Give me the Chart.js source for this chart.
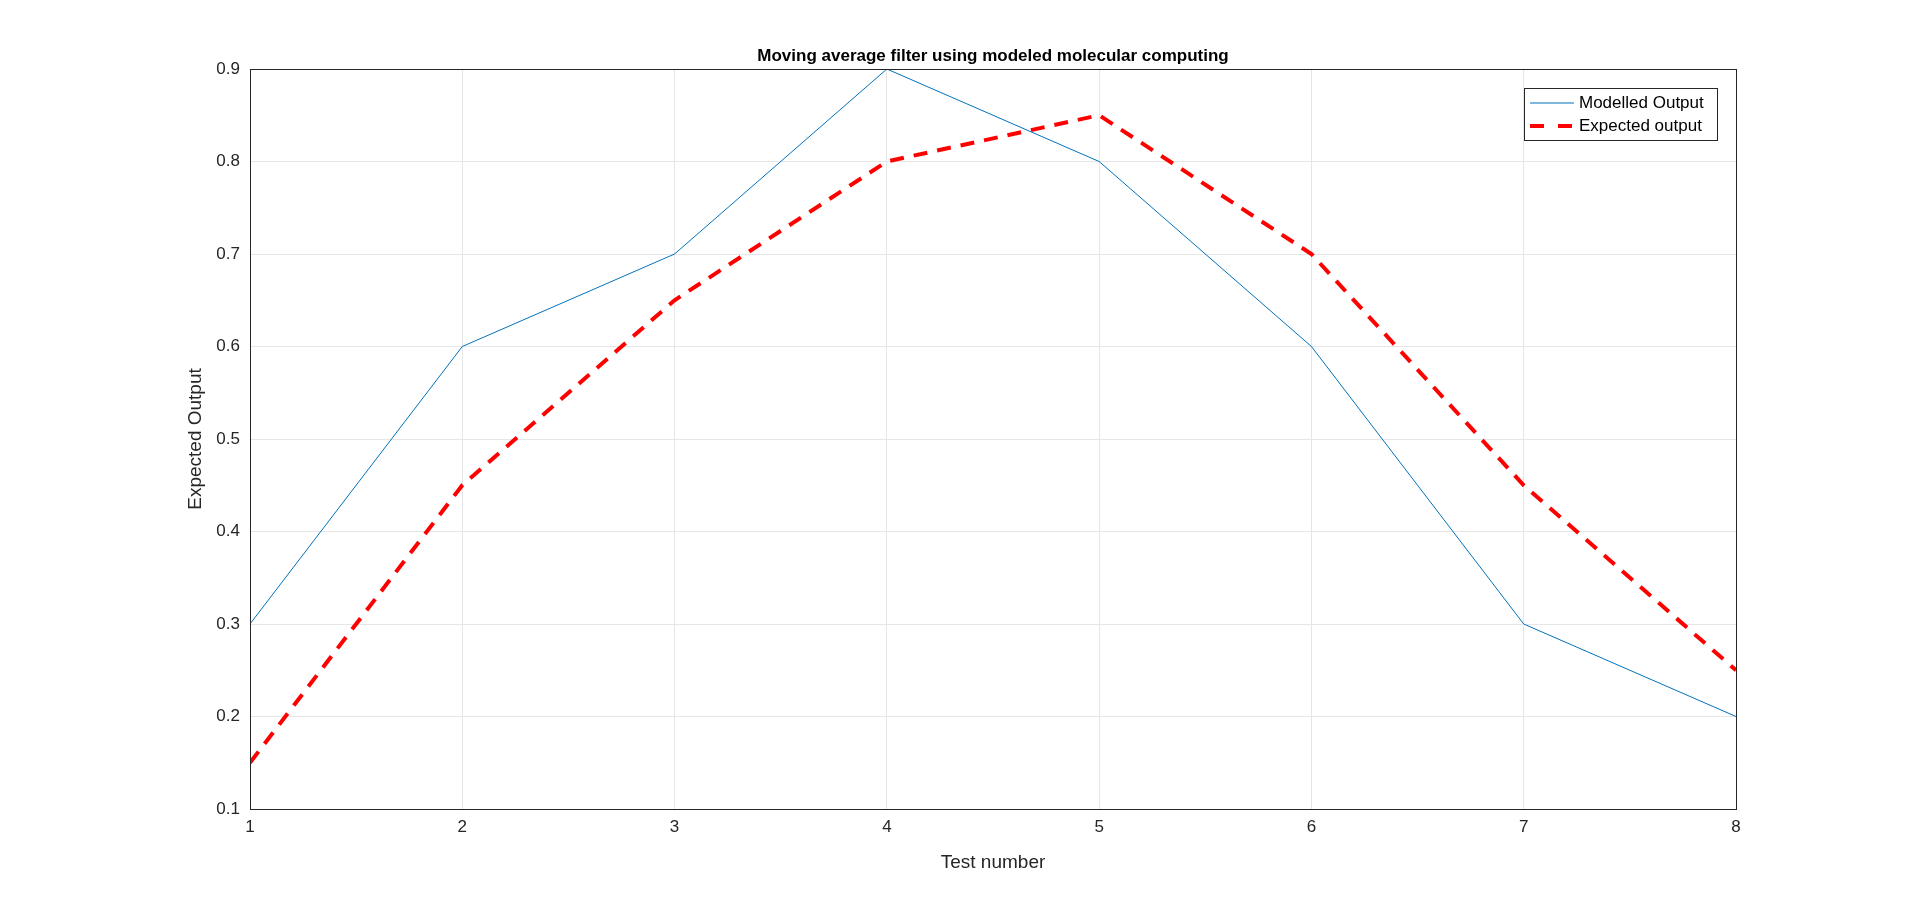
<!DOCTYPE html>
<html>
<head>
<meta charset="utf-8">
<script src="https://cdn.jsdelivr.net/npm/chart.js@4/dist/chart.umd.min.js"></script>
<style>body{margin:0;background:#fff}</style>
</head>
<body>
<canvas id="c" width="1920" height="911"></canvas>
<script>
var testNumbers = [1, 2, 3, 4, 5, 6, 7, 8];
var modelledOutput = [0.3, 0.6, 0.7, 0.9, 0.8, 0.6, 0.3, 0.2];
var expectedOutput = [0.15, 0.45, 0.65, 0.8, 0.85, 0.7, 0.45, 0.25];
var FONT = '"Liberation Sans", Arial, sans-serif';

function pts(ys) {
  return testNumbers.map(function (x, i) { return {x: x, y: ys[i]}; });
}

var frame = {
  id: 'frame',
  afterDraw: function (chart) {
    var c = chart.ctx, a = chart.chartArea;
    c.save();
    c.strokeStyle = '#262626'; c.lineWidth = 1;
    c.strokeRect(a.left + 0.5, a.top + 0.5, a.right - a.left, a.bottom - a.top);
    // title
    c.fillStyle = '#000'; c.font = 'bold 17px ' + FONT;
    c.textAlign = 'center'; c.textBaseline = 'bottom';
    c.fillText('Moving average filter using modeled molecular computing', (a.left + a.right) / 2, a.top - 4);
    // axis titles
    c.fillStyle = '#262626'; c.font = '19px ' + FONT; c.textBaseline = 'middle';
    c.fillText('Test number', (a.left + a.right) / 2, 863);
    c.save();
    c.translate(196, (a.top + a.bottom) / 2); c.rotate(-Math.PI / 2);
    c.fillText('Expected Output', 0, 0);
    c.restore();
    // legend
    var lx = 1524, ly = 88, lw = 193, lh = 52;
    c.fillStyle = '#fff'; c.fillRect(lx, ly, lw, lh);
    c.strokeStyle = '#262626'; c.strokeRect(lx + 0.5, ly + 0.5, lw, lh);
    c.font = '17px ' + FONT; c.textAlign = 'left'; c.textBaseline = 'middle';
    c.strokeStyle = '#0072BD'; c.lineWidth = 1;
    c.beginPath(); c.moveTo(lx + 6, ly + 15); c.lineTo(lx + 50, ly + 15); c.stroke();
    c.strokeStyle = '#FF0000'; c.lineWidth = 4; c.setLineDash([14, 14]);
    c.beginPath(); c.moveTo(lx + 6, ly + 38); c.lineTo(lx + 50, ly + 38); c.stroke();
    c.setLineDash([]);
    c.fillStyle = '#000';
    c.fillText('Modelled Output', lx + 55, ly + 15);
    c.fillText('Expected output', lx + 55, ly + 38);
    c.restore();
  }
};

new Chart(document.getElementById('c'), {
  type: 'line',
  data: {
    datasets: [
      {label: 'Modelled Output', data: pts(modelledOutput), borderColor: '#0072BD', borderWidth: 1, pointRadius: 0, fill: false},
      {label: 'Expected output', data: pts(expectedOutput), borderColor: '#FF0000', borderWidth: 4, borderDash: [14, 10], pointRadius: 0, fill: false}
    ]
  },
  plugins: [frame],
  options: {
    responsive: false, animation: false,
    layout: {padding: {left: 0, right: 184, top: 69, bottom: 0}},
    plugins: {legend: {display: false}, title: {display: false}, tooltip: {enabled: false}},
    scales: {
      x: {
        type: 'linear', min: 1, max: 8,
        ticks: {stepSize: 1, color: '#262626', font: {family: FONT, size: 17}, padding: 8},
        grid: {color: '#e6e6e6', tickLength: 0},
        border: {display: false},
        afterFit: function (s) { s.height = 102; }
      },
      y: {
        min: 0.1, max: 0.9,
        ticks: {stepSize: 0.1, color: '#262626', font: {family: FONT, size: 17}, padding: 10,
          callback: function (v) { return (Math.round(v * 10) / 10).toFixed(1); }},
        grid: {color: '#e6e6e6', tickLength: 0},
        border: {display: false},
        afterFit: function (s) { s.width = 250; }
      }
    }
  }
});
</script>
</body>
</html>
